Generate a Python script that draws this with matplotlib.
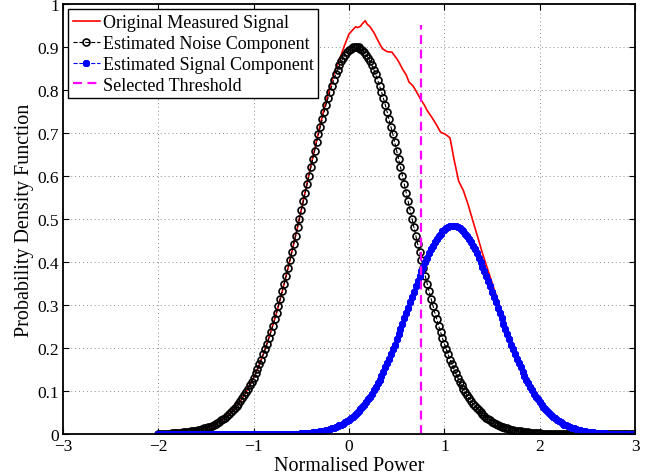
import numpy as np
import matplotlib.pyplot as plt

plt.rcParams['font.family'] = ['Liberation Serif', 'DejaVu Serif']

# sample grid of the two fitted components (-2 .. 3, step 0.02)
x_grid = np.linspace(-2.0, 3.0, 251)

# estimated noise component, read off the black circles
noise_pdf = [
    # x = -2.00 .. 0.06
    0.001, 0.001, 0.001, 0.001, 0.001, 0.001, 0.001, 0.002, 0.002, 0.002,
    0.003, 0.003, 0.003, 0.004, 0.004, 0.005, 0.005, 0.006, 0.007, 0.007,
    0.008, 0.009, 0.010, 0.011, 0.013, 0.014, 0.016, 0.017, 0.019, 0.021,
    0.024, 0.026, 0.029, 0.032, 0.035, 0.038, 0.042, 0.046, 0.050, 0.055,
    0.060, 0.065, 0.070, 0.077, 0.083, 0.090, 0.097, 0.105, 0.113, 0.122,
    0.131, 0.141, 0.151, 0.162, 0.173, 0.185, 0.197, 0.210, 0.223, 0.237,
    0.252, 0.267, 0.282, 0.298, 0.315, 0.332, 0.349, 0.367, 0.385, 0.404,
    0.423, 0.442, 0.461, 0.481, 0.501, 0.521, 0.541, 0.561, 0.581, 0.601,
    0.620, 0.640, 0.659, 0.678, 0.697, 0.715, 0.732, 0.749, 0.766, 0.781,
    0.796, 0.810, 0.823, 0.836, 0.847, 0.857, 0.867, 0.875, 0.882, 0.888,
    0.893, 0.896, 0.899, 0.900,
    # x = 0.08 .. 2.14
    0.900, 0.899, 0.896, 0.893, 0.888, 0.882, 0.875, 0.867, 0.857, 0.847,
    0.836, 0.823, 0.810, 0.796, 0.781, 0.766, 0.749, 0.732, 0.715, 0.697,
    0.678, 0.659, 0.640, 0.620, 0.601, 0.581, 0.561, 0.541, 0.521, 0.501,
    0.481, 0.461, 0.442, 0.423, 0.404, 0.385, 0.367, 0.349, 0.332, 0.315,
    0.298, 0.282, 0.267, 0.252, 0.237, 0.223, 0.210, 0.197, 0.185, 0.173,
    0.162, 0.151, 0.141, 0.131, 0.122, 0.113, 0.105, 0.097, 0.090, 0.083,
    0.077, 0.070, 0.065, 0.060, 0.055, 0.050, 0.046, 0.042, 0.038, 0.035,
    0.032, 0.029, 0.026, 0.024, 0.021, 0.019, 0.017, 0.016, 0.014, 0.013,
    0.011, 0.010, 0.009, 0.008, 0.007, 0.007, 0.006, 0.005, 0.005, 0.004,
    0.004, 0.003, 0.003, 0.003, 0.002, 0.002, 0.002, 0.001, 0.001, 0.001,
    0.001, 0.001, 0.001, 0.001,
    # x = 2.16 .. 3.00
    0.0, 0.0, 0.0, 0.0, 0.0, 0.0, 0.0, 0.0, 0.0, 0.0,
    0.0, 0.0, 0.0, 0.0, 0.0, 0.0, 0.0, 0.0, 0.0, 0.0,
    0.0, 0.0, 0.0, 0.0, 0.0, 0.0, 0.0, 0.0, 0.0, 0.0,
    0.0, 0.0, 0.0, 0.0, 0.0, 0.0, 0.0, 0.0, 0.0, 0.0,
    0.0, 0.0, 0.0,
]

# estimated signal component, read off the blue stars
signal_pdf = [
    # x = -2.00 .. -0.66
    0.0, 0.0, 0.0, 0.0, 0.0, 0.0, 0.0, 0.0, 0.0, 0.0,
    0.0, 0.0, 0.0, 0.0, 0.0, 0.0, 0.0, 0.0, 0.0, 0.0,
    0.0, 0.0, 0.0, 0.0, 0.0, 0.0, 0.0, 0.0, 0.0, 0.0,
    0.0, 0.0, 0.0, 0.0, 0.0, 0.0, 0.0, 0.0, 0.0, 0.0,
    0.0, 0.0, 0.0, 0.0, 0.0, 0.0, 0.0, 0.0, 0.0, 0.0,
    0.0, 0.0, 0.0, 0.0, 0.0, 0.0, 0.0, 0.0, 0.0, 0.0,
    0.0, 0.0, 0.0, 0.0, 0.0, 0.0, 0.0, 0.0,
    # x = -0.64 .. 1.08
    0.001, 0.001, 0.001, 0.001, 0.001, 0.001, 0.001, 0.002, 0.002, 0.002,
    0.002, 0.003, 0.003, 0.004, 0.004, 0.005, 0.005, 0.006, 0.007, 0.008,
    0.009, 0.010, 0.011, 0.013, 0.014, 0.016, 0.018, 0.020, 0.022, 0.024,
    0.027, 0.030, 0.033, 0.036, 0.040, 0.044, 0.048, 0.053, 0.058, 0.063,
    0.068, 0.074, 0.081, 0.087, 0.094, 0.102, 0.110, 0.118, 0.126, 0.135,
    0.145, 0.155, 0.165, 0.175, 0.186, 0.197, 0.208, 0.220, 0.232, 0.244,
    0.256, 0.269, 0.281, 0.294, 0.306, 0.318, 0.331, 0.343, 0.355, 0.367,
    0.378, 0.389, 0.400, 0.410, 0.420, 0.429, 0.438, 0.446, 0.453, 0.460,
    0.466, 0.471, 0.475, 0.479, 0.481, 0.483, 0.484,
    # x = 1.10 .. 2.82
    0.484, 0.483, 0.481, 0.479, 0.475, 0.471, 0.466, 0.460, 0.453, 0.446,
    0.438, 0.429, 0.420, 0.410, 0.400, 0.389, 0.378, 0.367, 0.355, 0.343,
    0.331, 0.318, 0.306, 0.294, 0.281, 0.269, 0.256, 0.244, 0.232, 0.220,
    0.208, 0.197, 0.186, 0.175, 0.165, 0.155, 0.145, 0.135, 0.126, 0.118,
    0.110, 0.102, 0.094, 0.087, 0.081, 0.074, 0.068, 0.063, 0.058, 0.053,
    0.048, 0.044, 0.040, 0.036, 0.033, 0.030, 0.027, 0.024, 0.022, 0.020,
    0.018, 0.016, 0.014, 0.013, 0.011, 0.010, 0.009, 0.008, 0.007, 0.006,
    0.005, 0.005, 0.004, 0.004, 0.003, 0.003, 0.002, 0.002, 0.002, 0.002,
    0.001, 0.001, 0.001, 0.001, 0.001, 0.001, 0.001,
    # x = 2.84 .. 3.00
    0.0, 0.0, 0.0, 0.0, 0.0, 0.0, 0.0, 0.0, 0.0,
]

# original measured signal (red line)
meas_x = [-2.00, -1.95, -1.90, -1.85, -1.80, -1.75, -1.70, -1.65, -1.60, -1.55,
          -1.50, -1.45, -1.40, -1.35, -1.30, -1.25, -1.20, -1.15, -1.10, -1.05,
          -1.00, -0.95, -0.90, -0.85, -0.80, -0.75, -0.70, -0.65, -0.60, -0.55,
          -0.50, -0.45, -0.40, -0.35, -0.30, -0.25, -0.20, -0.15, -0.10, -0.05,
          0.00, 0.04, 0.07, 0.09, 0.12, 0.14, 0.17, 0.19, 0.22, 0.26,
          0.31, 0.35, 0.40, 0.45, 0.50, 0.53, 0.56, 0.60, 0.63, 0.67,
          0.71, 0.75, 0.79, 0.82, 0.87, 0.92, 0.96, 1.00, 1.03, 1.06,
          1.10, 1.15, 1.20, 1.25, 1.30, 1.35, 1.40, 1.45, 1.50, 1.55,
          1.60, 1.65, 1.70, 1.75, 1.80, 1.85, 1.90, 1.95, 2.00, 2.05,
          2.10, 2.15, 2.20, 2.25, 2.30, 2.35, 2.40, 2.45, 2.50, 2.60,
          2.70, 2.80, 3.00]
meas_y = [0.001, 0.001, 0.001, 0.002, 0.003, 0.003, 0.005, 0.006, 0.008, 0.011,
          0.014, 0.018, 0.024, 0.030, 0.038, 0.048, 0.060, 0.073, 0.090, 0.109,
          0.131, 0.156, 0.185, 0.217, 0.252, 0.290, 0.332, 0.376, 0.423, 0.471,
          0.522, 0.573, 0.624, 0.673, 0.721, 0.766, 0.805, 0.842, 0.870, 0.902,
          0.930, 0.940, 0.947, 0.945, 0.948, 0.954, 0.961, 0.953, 0.947, 0.934,
          0.912, 0.896, 0.889, 0.888, 0.873, 0.862, 0.849, 0.835, 0.818, 0.810,
          0.795, 0.779, 0.765, 0.752, 0.736, 0.718, 0.702, 0.698, 0.694, 0.688,
          0.640, 0.588, 0.566, 0.533, 0.495, 0.458, 0.420, 0.386, 0.352, 0.318,
          0.284, 0.251, 0.219, 0.189, 0.161, 0.136, 0.114, 0.094, 0.077, 0.061,
          0.048, 0.038, 0.029, 0.022, 0.017, 0.013, 0.010, 0.007, 0.005, 0.003,
          0.001, 0.001, 0.000]

threshold = 0.76
threshold_top = 0.95

labels = ['Original Measured Signal', 'Estimated Noise Component',
          'Estimated Signal Component', 'Selected Threshold']

fig = plt.figure(figsize=(6.61, 4.77), dpi=100)
ax = fig.add_axes([0.0953, 0.0881, 0.8654, 0.9015])

ax.plot(meas_x, meas_y, '-', color='red', lw=1.2, label=labels[0])
ax.plot(x_grid, noise_pdf, '--', color='black', lw=0.8, marker='o', ms=5.0,
        mfc='none', mec='black', mew=1.2, label=labels[1])
ax.plot(x_grid, signal_pdf, '--', color='blue', lw=0.8, marker=(8, 2, 0), ms=5.0,
        mfc='blue', mec='blue', mew=1.7, label=labels[2])
ax.plot([threshold, threshold], [0, threshold_top], color='magenta', lw=1.6,
        dashes=(4, 2.5), label=labels[3])

ax.set_xlim(-3, 3)
ax.set_ylim(0, 1)
ax.set_xticks(np.arange(-3, 4, 1))
yt = np.round(np.arange(0, 1.01, 0.1), 1)
ax.set_yticks(yt)
ax.set_yticklabels(['0' if v == 0 else ('1' if v == 1 else f'{v:g}') for v in yt])
ax.grid(True, linestyle=(0, (1, 3)), color='0.55', lw=0.7)
ax.tick_params(direction='in', top=True, right=True, length=4, width=0.8,
               labelsize=12.5, pad=3)
for s in ax.spines.values():
    s.set_linewidth(1.3)

ax.set_xlabel('Normalised Power', fontsize=14.5, labelpad=1)
ax.set_ylabel('Probability Density Function', fontsize=14.5, labelpad=2)

leg = ax.legend(loc='upper left', fontsize=13, frameon=True, fancybox=False,
                edgecolor='black', framealpha=1, borderpad=0.25, labelspacing=0.22,
                handlelength=1.5, handletextpad=0.15, borderaxespad=0.3, numpoints=1)
leg.get_frame().set_linewidth(1.0)

fig.savefig('out.png', dpi=100)
